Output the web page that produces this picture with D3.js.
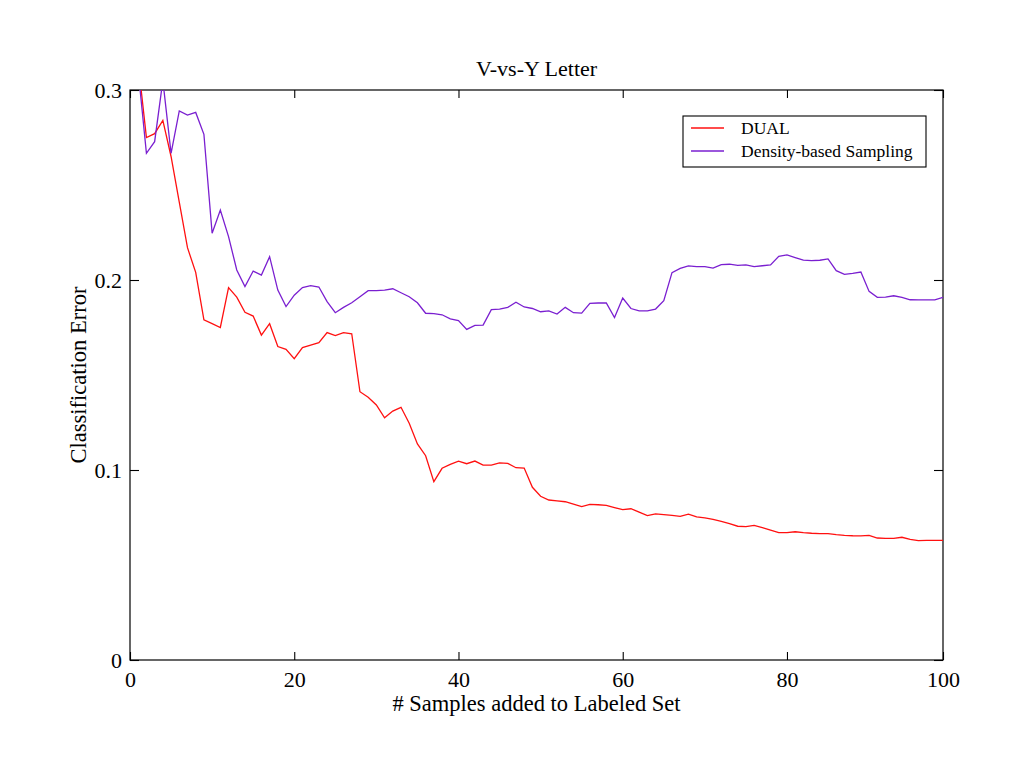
<!DOCTYPE html>
<html>
<head>
<meta charset="utf-8">
<script src="https://cdn.jsdelivr.net/npm/d3@7"></script>
<style>
  body { margin: 0; background: #fff; }
  text { font-family: "Liberation Serif", "DejaVu Serif", serif; fill: #000; }
</style>
</head>
<body>
<script>
'use strict';

// values, sample 1..99
const samples = d3.range(1, 100);

const dualError = [
  0.314, 0.275, 0.277, 0.284, 0.265, 0.241, 0.217, 0.204, 0.179, 0.177,
  0.175, 0.196, 0.191, 0.183, 0.181, 0.171, 0.177, 0.165, 0.1635, 0.1586,
  0.1644, 0.1657, 0.167, 0.1723, 0.1707, 0.1723, 0.1717, 0.1412, 0.1383, 0.1342,
  0.1275, 0.131, 0.133, 0.1246, 0.1137, 0.1075, 0.0939, 0.1009, 0.103, 0.1047,
  0.1033, 0.1047, 0.1026, 0.1026, 0.1037, 0.1035, 0.1012, 0.101, 0.0909, 0.0862,
  0.0842, 0.0838, 0.0833, 0.082, 0.0807, 0.0819, 0.0817, 0.0814, 0.0802, 0.0791,
  0.0796, 0.0778, 0.076, 0.0769, 0.0765, 0.0761, 0.0756, 0.0768, 0.0753, 0.0748,
  0.074, 0.073, 0.0718, 0.0704, 0.0702, 0.0709, 0.0697, 0.0684, 0.067, 0.067,
  0.0675, 0.067, 0.0667, 0.0665, 0.0665, 0.066, 0.0656, 0.0654, 0.0653, 0.0656,
  0.0642, 0.064, 0.064, 0.0646, 0.0635, 0.0628, 0.063, 0.063, 0.063
];

const densityError = [
  0.31, 0.2667, 0.2728, 0.305, 0.2667, 0.289, 0.2868, 0.2882, 0.2767, 0.2246,
  0.2368, 0.2228, 0.2053, 0.1965, 0.2047, 0.2026, 0.2123, 0.1947, 0.186, 0.192,
  0.196, 0.197, 0.1963, 0.1886, 0.1828, 0.1856, 0.188, 0.1912, 0.1944, 0.1944,
  0.1947, 0.1954, 0.1933, 0.1912, 0.188, 0.1825, 0.1823, 0.1817, 0.1795, 0.1786,
  0.174, 0.1761, 0.1763, 0.1844, 0.1847, 0.1856, 0.1883, 0.1858, 0.185, 0.1833,
  0.1837, 0.1821, 0.1856, 0.1828, 0.1826, 0.1877, 0.1879, 0.1879, 0.1802, 0.1905,
  0.185, 0.1837, 0.1837, 0.1847, 0.1891, 0.2039, 0.2061, 0.2074, 0.207, 0.207,
  0.2063, 0.2081, 0.2083, 0.2077, 0.208, 0.207, 0.2075, 0.2079, 0.2125, 0.2132,
  0.2118, 0.2105, 0.2102, 0.2104, 0.2111, 0.2049, 0.203, 0.2035, 0.2042, 0.194,
  0.1909, 0.191, 0.1917, 0.1909, 0.1896, 0.1895, 0.1895, 0.1895, 0.1909
];

const seriesNames = ['DUAL', 'Density-based Sampling'];
const seriesColors = ['#ff1010', '#7a1fd0'];

// the picture puts its last tick on the right edge of the frame
const xTickValues = [0, 20, 40, 60, 80, 99];
const xTickLabels = ['0', '20', '40', '60', '80', '100'];
const yTickValues = [0, 0.1, 0.2, 0.3];
const yTickLabels = ['0', '0.1', '0.2', '0.3'];

const titleText = 'V-vs-Y Letter';
const xLabelText = '# Samples added to Labeled Set';
const yLabelText = 'Classification Error';

(function() {

  let width = 1024;
  let height = 768;
  let plotLeft = 130, plotRight = 943, plotTop = 90, plotBottom = 660;

  let svg = d3.select('body')
    .append('svg')
    .attr('width', width)
    .attr('height', height);

  let xScale = d3.scaleLinear()
    .domain([0, 99])
    .range([plotLeft, plotRight]);

  let yScale = d3.scaleLinear()
    .domain([0, 0.3])
    .range([plotBottom, plotTop]);

  svg.append('clipPath')
    .attr('id', 'plotclip')
    .append('rect')
    .attr('x', plotLeft)
    .attr('y', plotTop)
    .attr('width', plotRight - plotLeft)
    .attr('height', plotBottom - plotTop);

  // frame
  svg.append('rect')
    .attr('x', plotLeft)
    .attr('y', plotTop)
    .attr('width', plotRight - plotLeft)
    .attr('height', plotBottom - plotTop)
    .attr('fill', 'none')
    .attr('stroke', '#000')
    .attr('stroke-width', 1.2);

  // axes with inward ticks
  svg.append('g')
    .attr('transform', 'translate(0,' + plotBottom + ')')
    .call(d3.axisBottom(xScale)
      .tickValues(xTickValues)
      .tickSize(-8)
      .tickPadding(11)
      .tickFormat((d, i) => xTickLabels[i]));
  svg.append('g')
    .attr('transform', 'translate(0,' + plotTop + ')')
    .call(d3.axisTop(xScale).tickValues(xTickValues).tickSize(-8).tickFormat(''));

  svg.append('g')
    .attr('transform', 'translate(' + plotLeft + ',0)')
    .call(d3.axisLeft(yScale)
      .tickValues(yTickValues)
      .tickSize(-9)
      .tickPadding(8)
      .tickFormat((d, i) => yTickLabels[i]));
  svg.append('g')
    .attr('transform', 'translate(' + plotRight + ',0)')
    .call(d3.axisRight(yScale).tickValues(yTickValues).tickSize(-9).tickFormat(''));

  svg.selectAll('.domain').remove();
  svg.selectAll('.tick line').attr('stroke', '#000').attr('stroke-width', 1.1);
  svg.selectAll('.tick text')
    .style('font-family', '"Liberation Serif", serif')
    .style('font-size', '22px')
    .attr('fill', '#000');

  // lines
  let series = [dualError, densityError];
  let line = d3.line()
    .x((d, i) => xScale(samples[i]))
    .y(d => yScale(d));

  let plot = svg.append('g').attr('clip-path', 'url(#plotclip)');
  series.forEach(function(values, k) {
    plot.append('path')
      .datum(values)
      .attr('d', line)
      .attr('fill', 'none')
      .attr('stroke', seriesColors[k])
      .attr('stroke-width', 1.3);
  });

  // labels
  svg.append('text')
    .attr('x', (plotLeft + plotRight) / 2)
    .attr('y', 76)
    .attr('text-anchor', 'middle')
    .style('font-size', '22px')
    .text(titleText);

  svg.append('text')
    .attr('x', (plotLeft + plotRight) / 2)
    .attr('y', 711)
    .attr('text-anchor', 'middle')
    .style('font-size', '22.5px')
    .text(xLabelText);

  svg.append('text')
    .attr('transform', 'translate(86,' + ((plotTop + plotBottom) / 2) + ')rotate(-90)')
    .attr('text-anchor', 'middle')
    .style('font-size', '22.5px')
    .text(yLabelText);

  // legend
  let legend = svg.append('g');
  legend.append('rect')
    .attr('x', 683)
    .attr('y', 116)
    .attr('width', 243)
    .attr('height', 51)
    .attr('fill', '#fff')
    .attr('stroke', '#000')
    .attr('stroke-width', 1.1);

  seriesNames.forEach(function(name, k) {
    let ly = 128 + k * 23;
    legend.append('line')
      .attr('x1', 691)
      .attr('x2', 724)
      .attr('y1', ly)
      .attr('y2', ly)
      .attr('stroke', seriesColors[k])
      .attr('stroke-width', 1.3);
    legend.append('text')
      .attr('x', 741)
      .attr('y', ly + 6)
      .style('font-size', '17.5px')
      .text(name);
  });

})();
</script>
</body>
</html>
